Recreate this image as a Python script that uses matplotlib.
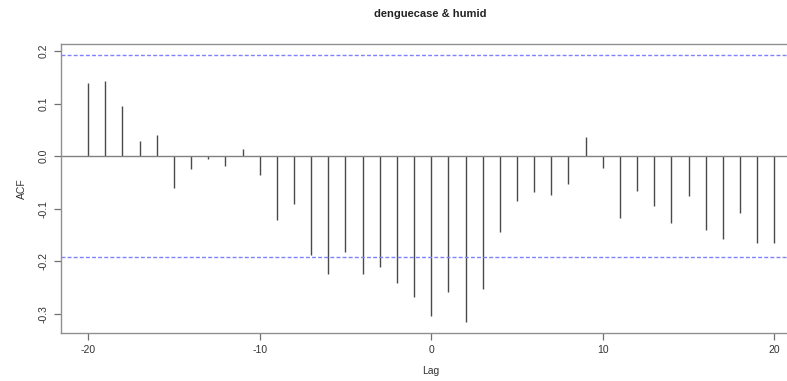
import matplotlib
matplotlib.use("Agg")
import matplotlib.pyplot as plt
import numpy as np

plt.rcParams['font.family'] = ['Liberation Sans', 'DejaVu Sans']
plt.rcParams['axes.unicode_minus'] = False

# cross-correlation of dengue cases with humidity, lags -20..20
lags = list(range(-20, 21))
acf = [0.139, 0.142, 0.095, 0.028, 0.040, -0.061, -0.024, -0.005, -0.019, 0.013,
       -0.037, -0.121, -0.091, -0.188, -0.225, -0.183, -0.224, -0.212, -0.242, -0.268,
       -0.305, -0.258, -0.316, -0.253, -0.145, -0.086, -0.068, -0.075, -0.054, 0.036,
       -0.022, -0.118, -0.066, -0.095, -0.127, -0.077, -0.140, -0.158, -0.108, -0.166,
       -0.166]
ci = 0.193
xticks = [-20, -10, 0, 10, 20]
yticks = [-0.3, -0.2, -0.1, 0.0, 0.1, 0.2]

fig = plt.figure(figsize=(7.87, 3.81), dpi=100)
ax = fig.add_axes([0.0771, 0.1268, 0.9416, 0.7577])

ax.vlines(lags, 0, acf, color='#4a4a4a', linewidth=1.0)
ax.axhline(0, color='#808080', linewidth=1.0)
ax.axhline(ci, color='#8080ff', linewidth=1.0, linestyle=(0, (2.8, 1.6)))
ax.axhline(-ci, color='#8080ff', linewidth=1.0, linestyle=(0, (2.8, 1.6)))

ax.set_xlim(-21.6, 21.6)
lo = min(min(acf), -ci)
hi = max(max(acf), ci)
pad = 0.04 * (hi - lo)
ax.set_ylim(lo - pad, hi + pad)

ax.set_xticks(xticks)
ax.set_yticks(yticks)
ax.set_yticklabels([f"{v:.1f}" for v in yticks], rotation=90, va='center')
ax.tick_params(direction='out', length=5, width=0.9, color='#707070',
               labelsize=7.5, labelcolor='#333333', pad=4)

for s in ax.spines.values():
    s.set_color('#909090')
    s.set_linewidth(1.0)

ax.set_xlabel('Lag', fontsize=7.5, color='#333333', labelpad=8)
ax.set_ylabel('ACF', fontsize=7.5, color='#333333', labelpad=8)
fig.text(0.547, 0.962, 'denguecase & humid', ha='center', va='center',
         fontsize=8, fontweight='bold', color='#222222')

fig.savefig('out.png', dpi=100)
